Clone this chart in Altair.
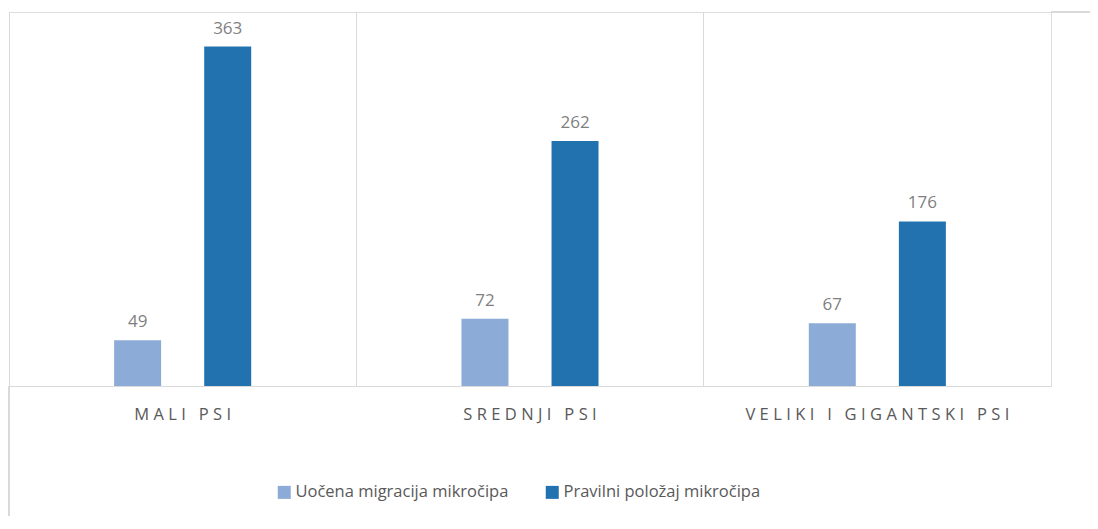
import altair as alt
import pandas as pd

categories = ["MALI PSI", "SREDNJI PSI", "VELIKI I GIGANTSKI PSI"]
series = ["Uočena migracija mikročipa", "Pravilni položaj mikročipa"]
migracija = [49, 72, 67]
pravilni = [363, 262, 176]
colors = ["#8CABD7", "#2272B0"]


def spaced(label):
    return "\u00a0\u00a0\u00a0".join("\u2009\u200a".join(list(w)) for w in label.split(" "))


cat_labels = [spaced(c) for c in categories]

rows = []
for i, c in enumerate(cat_labels):
    rows.append({"cat": c, "series": series[0], "value": migracija[i]})
    rows.append({"cat": c, "series": series[1], "value": pravilni[i]})
df = pd.DataFrame(rows)

FONT = "Open Sans"
GRID = "#D9D9D9"

x_enc = alt.X(
    "cat:N",
    sort=cat_labels,
    scale=alt.Scale(paddingInner=0, paddingOuter=0),
    axis=alt.Axis(
        title=None,
        labelAngle=0,
        ticks=False,
        domainColor=GRID,
        domainWidth=1,
        grid=True,
        gridColor=GRID,
        gridWidth=1,
        bandPosition=0,
        labelFont=FONT,
        labelFontSize=16.5,
        labelColor="#595959",
        labelPadding=20,
        labelLimit=400,
    ),
)
xo_enc = alt.XOffset(
    "series:N", sort=series, scale=alt.Scale(paddingInner=0.144, paddingOuter=1)
)
y_enc = alt.Y("value:Q", scale=alt.Scale(domain=[0, 400]), axis=None)

bars = alt.Chart(df).mark_bar(width=47).encode(
    x=x_enc,
    xOffset=xo_enc,
    y=y_enc,
    color=alt.Color(
        "series:N",
        sort=series,
        scale=alt.Scale(domain=series, range=colors),
        legend=alt.Legend(
            title=None,
            orient="none",
            legendX=267,
            legendY=472,
            direction="horizontal",
            symbolType="square",
            symbolSize=169,
            symbolStrokeWidth=0,
            symbolOpacity=1,
            labelFont=FONT,
            labelFontSize=16.5,
            labelColor="#595959",
            labelOffset=3,
            columnPadding=35,
            labelLimit=400,
        ),
    ),
)

labels = alt.Chart(df).mark_text(
    baseline="alphabetic", dy=-13, font=FONT, fontSize=17, color="#7F7F7F"
).encode(x=x_enc, xOffset=xo_enc, y=y_enc, text="value:Q")

border_left = alt.Chart(df).mark_rule(color=GRID, strokeWidth=1).encode(
    x=alt.value(0), y=alt.value(374), y2=alt.value(530)
)
border_top = alt.Chart(df).mark_rule(color=GRID, strokeWidth=1).encode(
    x=alt.value(1042), x2=alt.value(1100), y=alt.value(0)
)

chart = (
    alt.layer(bars, labels, border_left, border_top)
    .properties(
        width=1042,
        height=374,
        autosize=alt.AutoSizeParams(type="none"),
        padding={"left": 1, "top": 4, "right": 39, "bottom": 130},
    )
    .configure_view(stroke=GRID, strokeWidth=1)
    .configure(background="white")
)

chart.save("out.html", embed_options={"renderer": "svg", "actions": False})
